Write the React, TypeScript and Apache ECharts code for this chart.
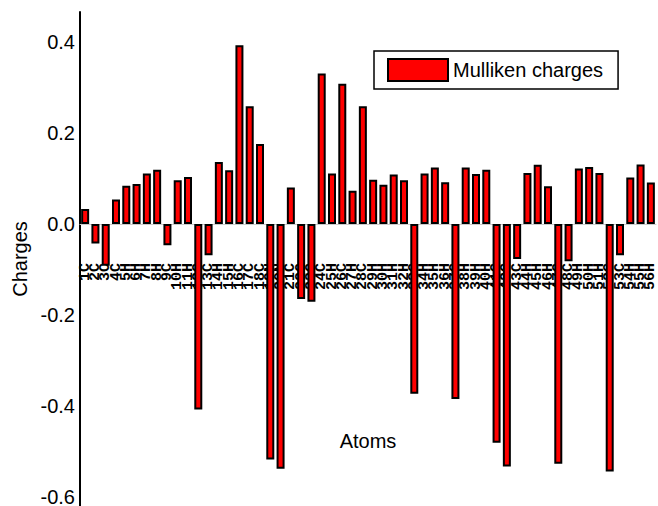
import React, { useEffect, useRef } from "react";
import * as echarts from "echarts";

const atoms: string[] = [
  "1C", "2C", "3C", "4C", "5H", "6H", "7H", "8H", "9C", "10H",
  "11H", "12C", "13C", "14H", "15H", "16C", "17C", "18C", "19N", "20N",
  "21C", "22C", "23C", "24C", "25H", "26C", "27H", "28C", "29H", "30H",
  "31H", "32H", "33C", "34H", "35H", "36H", "37C", "38H", "39H", "40H",
  "41C", "42C", "43C", "44H", "45H", "46H", "47C", "48C", "49H", "50H",
  "51H", "52C", "53C", "54H", "55H", "56H",
];

const charges: number[] = [
  0.033, -0.043, -0.092, 0.054, 0.084, 0.088, 0.111, 0.119, -0.047, 0.096,
  0.103, -0.408, -0.069, 0.136, 0.118, 0.393, 0.259, 0.176, -0.518, -0.538,
  0.080, -0.165, -0.171, 0.331, 0.111, 0.308, 0.073, 0.259, 0.097, 0.086,
  0.109, 0.096, -0.373, 0.111, 0.124, 0.092, -0.385, 0.124, 0.110, 0.119,
  -0.481, -0.533, -0.077, 0.112, 0.130, 0.083, -0.527, -0.082, 0.122, 0.125,
  0.112, -0.544, -0.069, 0.102, 0.131, 0.091,
];

const yTicks: number[] = [-0.6, -0.4, -0.2, 0.0, 0.2, 0.4];

const seriesName = "Mulliken charges";
const xName = "Atoms";
const yName = "Charges";

const Y_MIN = -0.62;
const Y_MAX = 0.466;

export default function App() {
  const ref = useRef<HTMLDivElement>(null);

  useEffect(() => {
    if (!ref.current) return;
    const chart = echarts.init(ref.current, undefined, { renderer: "svg" });
    const sans = "Liberation Sans, Arial, Helvetica, sans-serif";
    const gridTop = 12;
    const gridBottom = 0;
    const gridHeight = 506 - gridTop - gridBottom;
    // distance from the grid's bottom edge up to the zero line
    const zeroOffset = Math.round(((0 - Y_MIN) / (Y_MAX - Y_MIN)) * gridHeight);
    chart.setOption({
      animation: false,
      backgroundColor: "#ffffff",
      grid: {
        left: 80,
        right: 2,
        top: gridTop,
        bottom: gridBottom,
        containLabel: false,
        outerBoundsMode: "none",
      },
      legend: {
        data: [seriesName],
        left: 374,
        top: 51,
        orient: "horizontal",
        icon: "rect",
        itemWidth: 60,
        itemHeight: 22,
        padding: [7, 15, 7, 13],
        borderColor: "#000",
        borderWidth: 1.5,
        borderRadius: 0,
        textStyle: { fontSize: 20, color: "#000", fontFamily: sans },
      },
      xAxis: {
        type: "category",
        data: atoms,
        position: "bottom",
        offset: -zeroOffset,
        name: xName,
        nameLocation: "middle",
        nameGap: 207,
        nameTextStyle: { fontSize: 20, color: "#000", fontFamily: sans },
        axisLine: { show: true, onZero: false, lineStyle: { color: "#cccccc", width: 1 } },
        axisTick: { show: false },
        splitLine: { show: false },
        axisLabel: {
          interval: 0,
          rotate: 90,
          align: "right",
          margin: 39,
          fontSize: 15,
          fontWeight: "bold",
          fontFamily: "Liberation Mono, Courier New, monospace",
          color: "#000",
        },
      },
      yAxis: {
        type: "value",
        min: Y_MIN,
        max: Y_MAX,
        minInterval: 0.2,
        maxInterval: 0.2,
        name: yName,
        nameLocation: "middle",
        nameGap: 48,
        nameTextStyle: { fontSize: 20, color: "#000", fontFamily: sans },
        axisLine: { show: true, lineStyle: { color: "#000", width: 2 } },
        axisTick: { show: false },
        splitLine: { show: false },
        axisLabel: {
          margin: 5,
          fontSize: 20,
          lineHeight: 16,
          color: "#000",
          fontFamily: sans,
          formatter: (v: number) => {
            const hit = yTicks.find((t) => Math.abs(t - v) < 1e-6);
            if (hit === undefined) return "";
            return hit.toFixed(1);
          },
        },
      },
      series: [
        {
          name: seriesName,
          type: "bar",
          data: charges,
          barWidth: 8,
          itemStyle: { color: "#ff0000", borderColor: "#000", borderWidth: 2 },
        },
      ],
    });
    return () => chart.dispose();
  }, []);

  return (
    <div
      ref={ref}
      style={{ position: "fixed", left: 0, top: 0, width: 658, height: 506, background: "#fff" }}
    />
  );
}
